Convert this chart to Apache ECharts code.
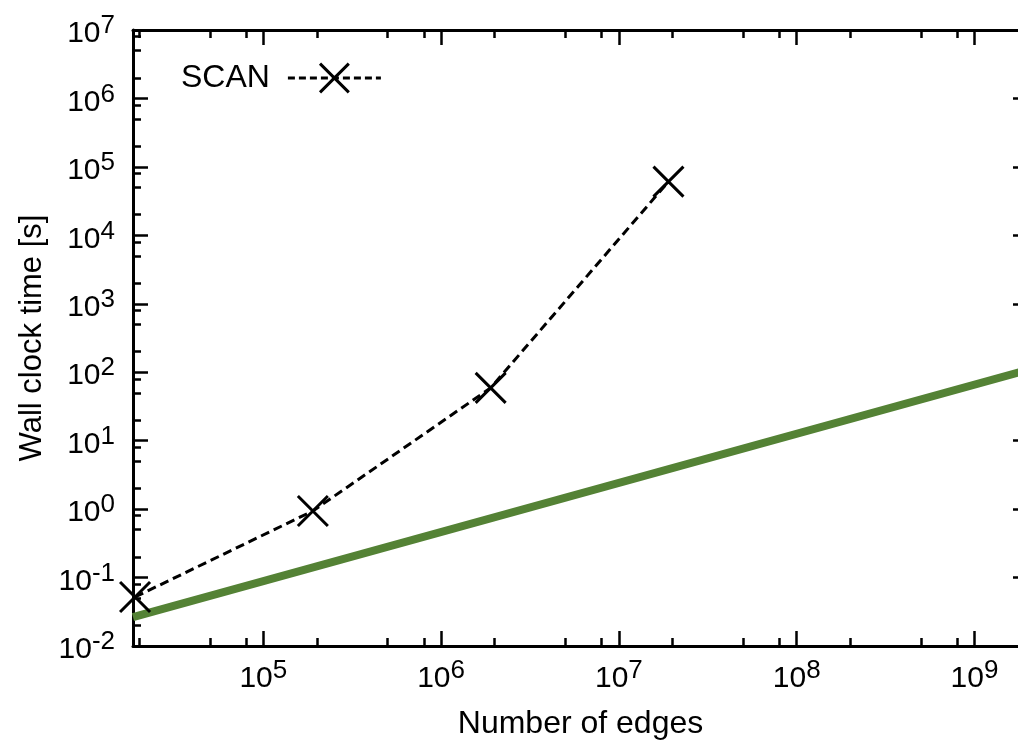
<!DOCTYPE html>
<html>
<head>
<meta charset="utf-8">
<title>SCAN wall clock time</title>
<script src="https://cdn.jsdelivr.net/npm/echarts@6/dist/echarts.min.js"></script>
<style>
  html, body { margin: 0; padding: 0; background: #fff; }
  #chart { width: 1018px; height: 743px; }
</style>
</head>
<body>
<div id="chart"></div>
<script>
// SCAN runs: number of edges -> wall clock time [s]
var scanEdges = [1.9e4, 1.9e5, 1.9e6, 1.9e7];
var scanTime = [0.052, 0.94, 59, 6.1e4];
// green line, read at both ends of the plot
var lineEdges = [1.85e4, 2.0e9];
var lineTime = [0.0265, 108];

// tick values
var xMajor = [1e5, 1e6, 1e7, 1e8, 1e9];
var xMinor = [2e4, 5e4, 8e4, 2e5, 5e5, 8e5, 2e6, 5e6, 8e6, 2e7, 5e7, 8e7, 2e8, 5e8, 8e8];
var yMajor = [1e-2, 1e-1, 1, 10, 100, 1e3, 1e4, 1e5, 1e6, 1e7];
var yMinor = [2e-2, 5e-2, 8e-2, 0.2, 0.5, 0.8, 2, 5, 8, 20, 50, 80, 200, 500, 800,
  2e3, 5e3, 8e3, 2e4, 5e4, 8e4, 2e5, 5e5, 8e5, 2e6, 5e6, 8e6];

var font = '"Liberation Sans", Arial, sans-serif';
var xMin = 1.85e4, xMax = 2.0e9;
var yMin = 1e-2, yMax = 1e7;

function pow10Label(v) {
  var e = Math.round(Math.log10(v));
  return '{b|10}{s|' + e + '}';
}
var powRich = {
  b: { fontSize: 30, fontFamily: font, color: '#000', lineHeight: 34, padding: [8, 0, 0, 0] },
  s: { fontSize: 26, fontFamily: font, color: '#000', lineHeight: 24, verticalAlign: 'top' }
};

function axisDef(kind, pos, ticks, len, opts) {
  var a = {
    type: 'log',
    logBase: 10,
    position: pos,
    min: kind === 'x' ? xMin : yMin,
    max: kind === 'x' ? xMax : yMax,
    axisLine: { show: false, onZero: false },
    axisTick: {
      show: true, inside: true, length: len, customValues: ticks,
      lineStyle: { color: '#000', width: 2.5 }
    },
    axisLabel: { show: false },
    splitLine: { show: false },
    minorTick: { show: false },
    silent: true
  };
  for (var k in opts) a[k] = opts[k];
  return a;
}

var chart = echarts.init(document.getElementById('chart'));
chart.setOption({
  animation: false,
  backgroundColor: '#fff',
  grid: { left: 133, top: 30, right: -10, bottom: 97, outerBoundsMode: 'none' },
  legend: {
    data: ['SCAN'],
    left: 176,
    top: 57,
    align: 'right',
    itemWidth: 93,
    itemHeight: 36,
    selectedMode: false,
    textStyle: { fontSize: 32, fontFamily: font, color: '#000', padding: [0, 13, 0, 0] },
    lineStyle: { width: 3, type: [7, 4], color: '#000' },
    itemStyle: { borderWidth: 3, borderColor: '#000', color: '#000' }
  },
  xAxis: [
    axisDef('x', 'bottom', xMajor, 15, {
      axisLine: { show: true, onZero: false, lineStyle: { color: '#000', width: 3 } },
      axisLabel: {
        show: true, customValues: xMajor, margin: 12,
        formatter: pow10Label, rich: powRich
      },
      name: 'Number of edges',
      nameLocation: 'middle',
      nameGap: 62,
      nameTextStyle: { fontSize: 32, fontFamily: font, color: '#000' }
    }),
    axisDef('x', 'bottom', xMinor, 8, {}),
    axisDef('x', 'top', xMajor, 15, {
      axisLine: { show: true, onZero: false, lineStyle: { color: '#000', width: 3 } }
    }),
    axisDef('x', 'top', xMinor, 8, {})
  ],
  yAxis: [
    axisDef('y', 'left', yMajor, 15, {
      axisLine: { show: true, onZero: false, lineStyle: { color: '#000', width: 3 } },
      axisLabel: {
        show: true, customValues: yMajor, margin: 18,
        formatter: pow10Label, rich: powRich
      },
      name: 'Wall clock time [s]',
      nameLocation: 'middle',
      nameRotate: 90,
      nameGap: 84,
      nameTextStyle: { fontSize: 31, fontFamily: font, color: '#000' }
    }),
    axisDef('y', 'left', yMinor, 8, {}),
    axisDef('y', 'right', yMajor, 15, {
      axisLine: { show: true, onZero: false, lineStyle: { color: '#000', width: 3 } }
    }),
    axisDef('y', 'right', yMinor, 8, {})
  ],
  series: [
    {
      type: 'line',
      data: lineEdges.map(function (x, i) { return [x, lineTime[i]]; }),
      showSymbol: false,
      symbol: 'none',
      lineStyle: { color: '#548235', width: 8, cap: 'butt' },
      silent: true,
      z: 2
    },
    {
      name: 'SCAN',
      type: 'line',
      data: scanEdges.map(function (x, i) { return [x, scanTime[i]]; }),
      symbol: 'path://M0,0L10,10M10,0L0,10',
      symbolSize: 30,
      itemStyle: { color: '#000', borderColor: '#000', borderWidth: 3 },
      lineStyle: { color: '#000', width: 3, type: [9, 5] },
      emphasis: { disabled: true },
      silent: true,
      z: 3
    }
  ]
});
</script>
</body>
</html>
